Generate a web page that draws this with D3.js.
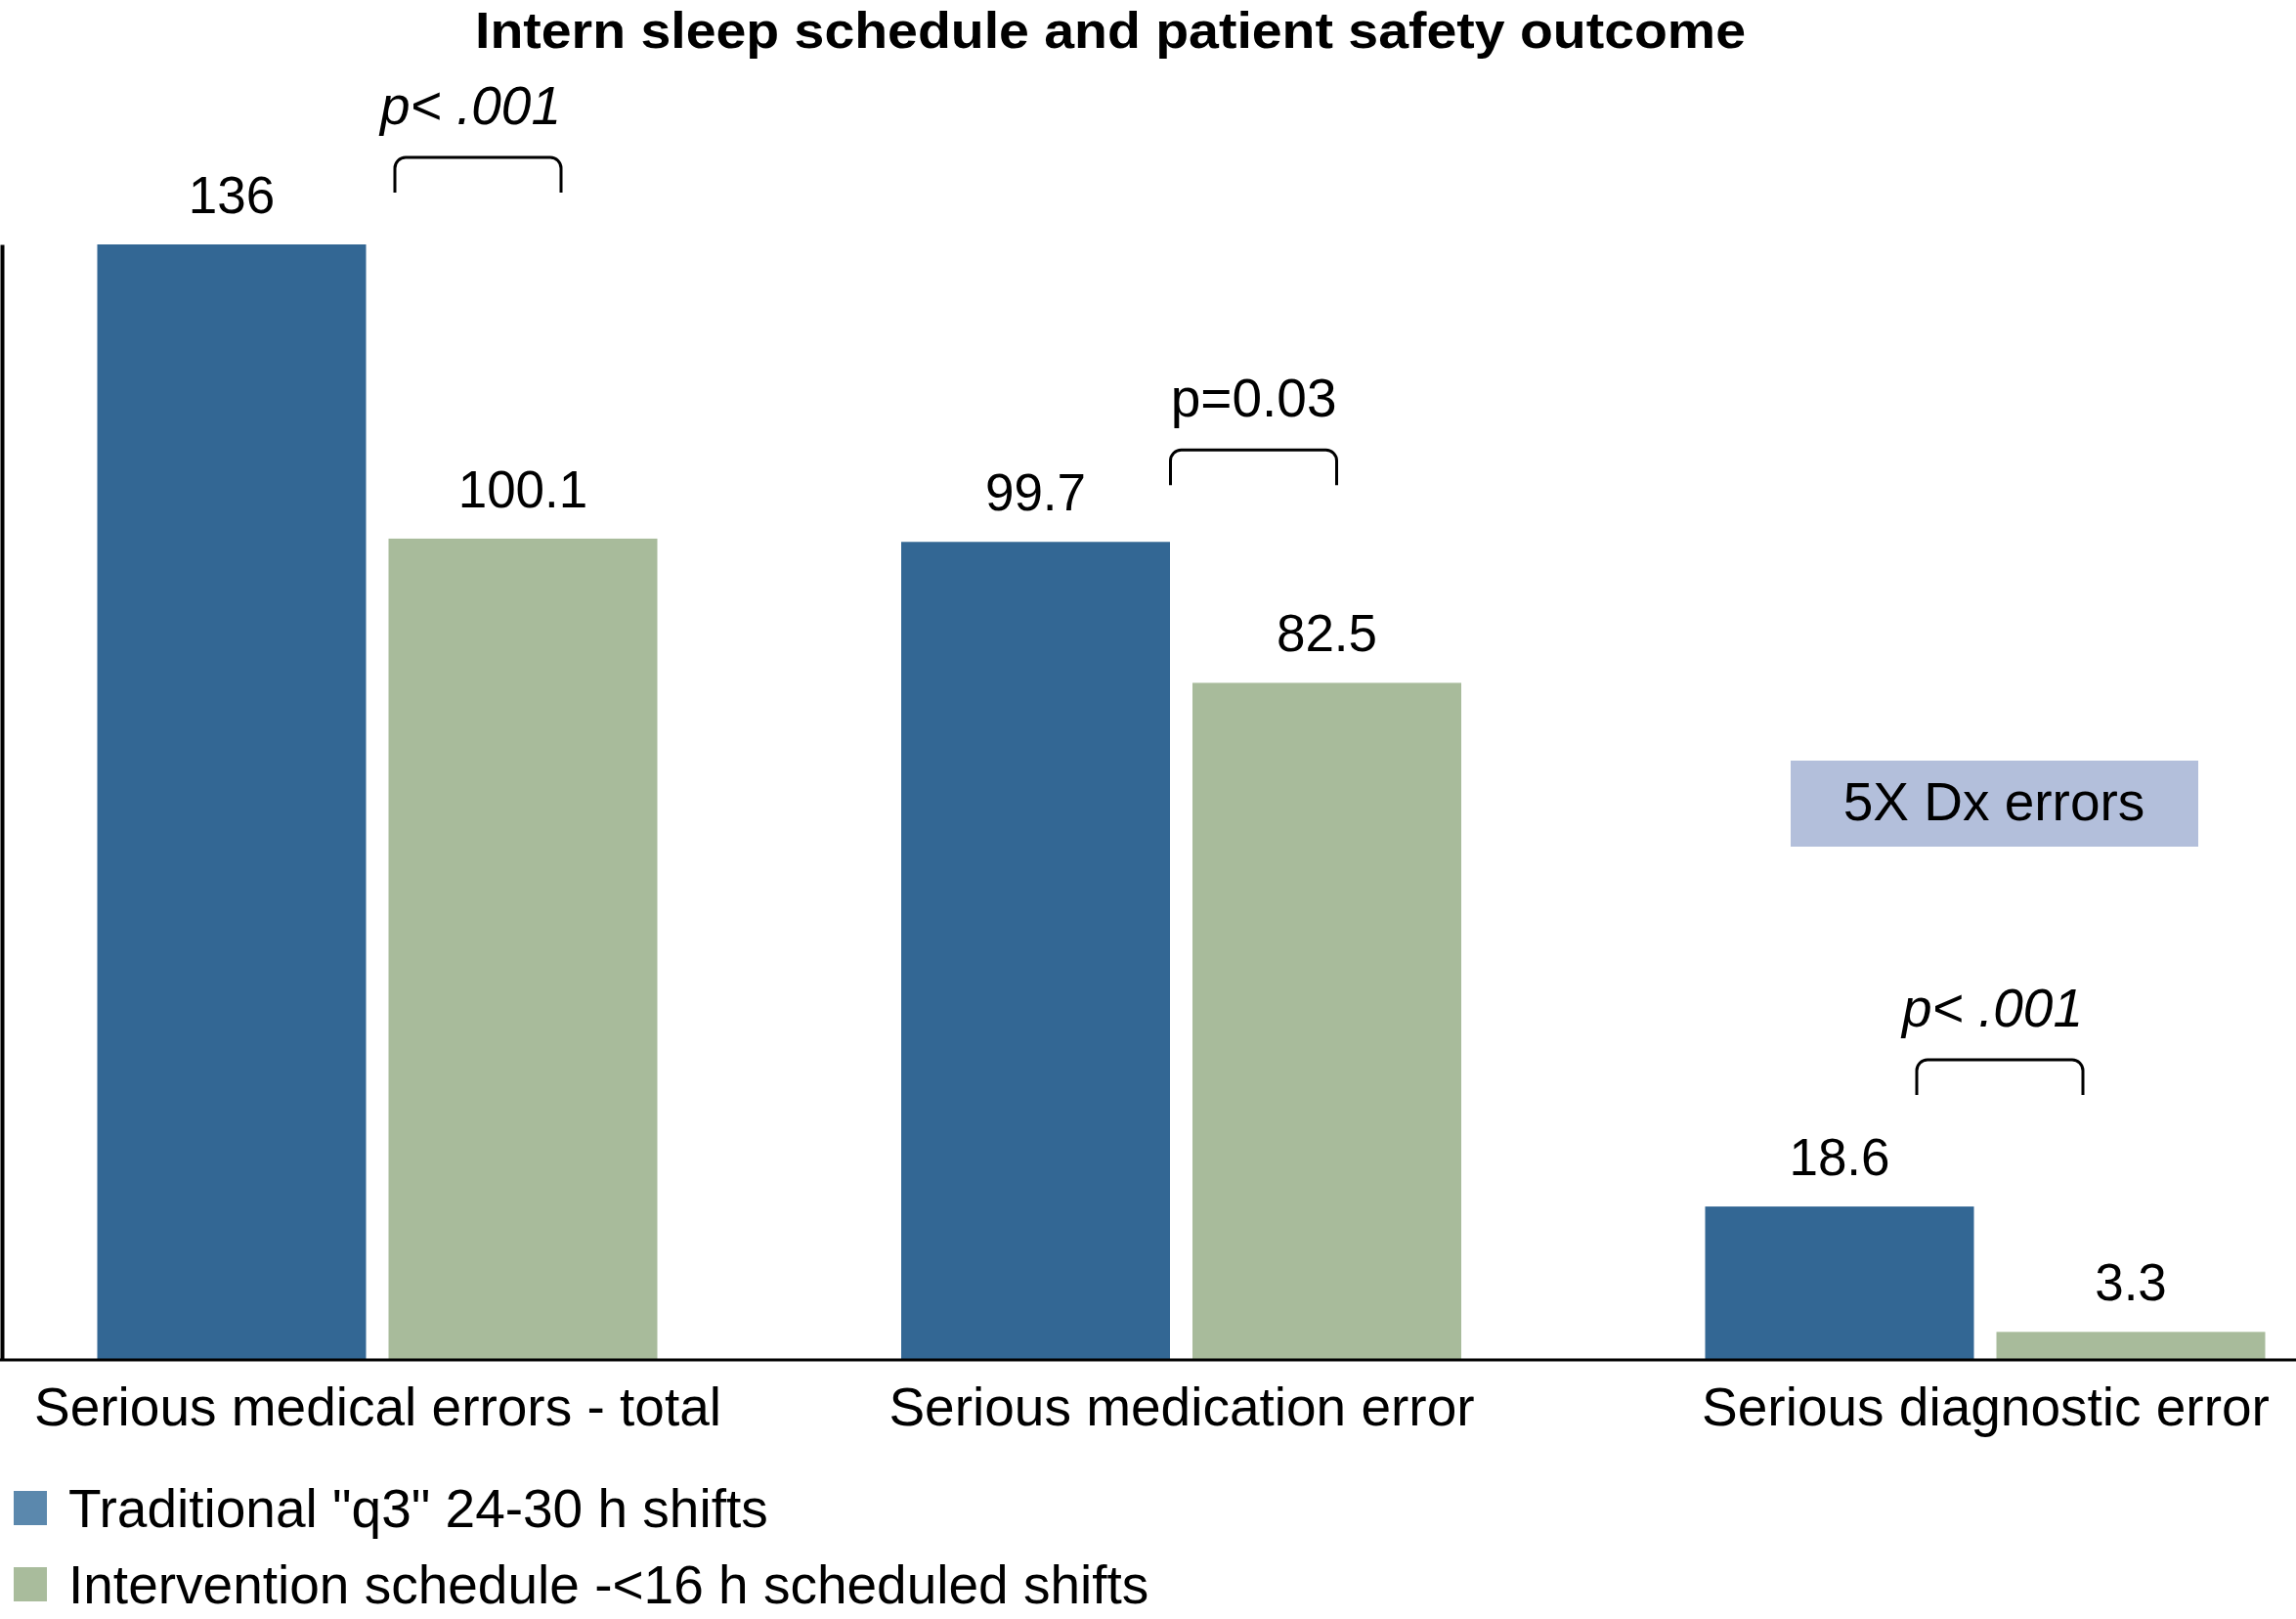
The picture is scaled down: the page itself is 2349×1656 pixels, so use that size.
<!DOCTYPE html>
<html>
<head>
<meta charset="utf-8">
<script src="https://cdn.jsdelivr.net/npm/d3@7/dist/d3.min.js"></script>
<style>
  html, body { margin: 0; padding: 0; background: #fff; }
  text { font-family: "Liberation Sans", Arial, Helvetica, sans-serif; fill: #000; }
</style>
</head>
<body>
<svg id="chart" width="2349" height="1656"></svg>
<script>
// chart values
const categories = ["Serious medical errors - total", "Serious medication error", "Serious diagnostic error"];
const seriesNames = ["Traditional \"q3\" 24-30 h shifts", "Intervention schedule -<16 h scheduled shifts"];
const traditional = [136, 99.7, 18.6];
const intervention = [100.1, 82.5, 3.3];
const pLabels = ["p< .001", "p=0.03", "p< .001"];
const pItalic = [true, false, true];
const calloutText = "5X Dx errors";
const titleText = "Intern sleep schedule and patient safety outcome";

// layout / style
const W = 2349, H = 1656;
const baseY = 1390, topY = 250;
const barColors = ["#336794", "#a8bb9b"];
const swatchColors = ["#5b88ad", "#a9bc9c"];
const bracketEnd = [188, 159, 100];   // px from group centre to bracket right end
const bracketLift = [53, 58, 114];    // px above taller bar top
const bracketW = 170, bracketH = 36, bracketR = 11;

const svg = d3.select("#chart");

const x = d3.scalePoint().domain(categories).range([386, 2031]);
const sub = d3.scaleBand().domain([0, 1]).range([-286.5, 286.5]).paddingInner(0.0772);
const y = d3.scaleLinear()
    .domain([0, d3.max(traditional.concat(intervention))])
    .range([baseY, topY]);

const rows = categories.map((c, i) => ({cat: c, vals: [traditional[i], intervention[i]], i: i}));

// title
svg.append("text")
    .attr("x", 1136).attr("y", 49)
    .attr("text-anchor", "middle")
    .attr("textLength", 1300)
    .attr("lengthAdjust", "spacingAndGlyphs")
    .style("font-size", "52px").style("font-weight", "bold")
    .text(titleText);

// bars
const grp = svg.selectAll("g.grp").data(rows).join("g")
    .attr("class", "grp")
    .attr("transform", d => `translate(${x(d.cat)},0)`);

grp.selectAll("rect")
    .data(d => d.vals.map((v, k) => ({v: v, k: k})))
    .join("rect")
    .attr("x", d => sub(d.k))
    .attr("width", sub.bandwidth())
    .attr("y", d => y(d.v))
    .attr("height", d => y(0) - y(d.v))
    .attr("fill", d => barColors[d.k]);

grp.selectAll("text.val")
    .data(d => d.vals.map((v, k) => ({v: v, k: k})))
    .join("text")
    .attr("class", "val")
    .attr("x", d => sub(d.k) + sub.bandwidth() / 2)
    .attr("y", d => y(d.v) - 32)
    .attr("text-anchor", "middle")
    .style("font-size", "53px")
    .text(d => String(d.v));

// significance brackets
grp.each(function(d) {
    const g = d3.select(this);
    const right = bracketEnd[d.i], left = right - bracketW;
    const bottom = y(d3.max(d.vals)) - bracketLift[d.i];
    const top = bottom - bracketH;
    const p = d3.path();
    p.moveTo(left, bottom);
    p.lineTo(left, top + bracketR);
    p.arcTo(left, top, left + bracketR, top, bracketR);
    p.lineTo(right - bracketR, top);
    p.arcTo(right, top, right, top + bracketR, bracketR);
    p.lineTo(right, bottom);
    g.append("path")
        .attr("d", p.toString())
        .attr("fill", "none")
        .attr("stroke", "#000")
        .attr("stroke-width", 3);
    g.append("text")
        .attr("x", right).attr("y", top - 34)
        .attr("text-anchor", "end")
        .style("font-size", "55px")
        .style("font-style", pItalic[d.i] ? "italic" : "normal")
        .text(pLabels[d.i]);
});

// callout box over the diagnostic group
const cx = x(categories[2]) + 9;
svg.append("rect")
    .attr("x", cx - 208).attr("y", 778)
    .attr("width", 417).attr("height", 88)
    .attr("fill", "#b3bfdb");
svg.append("text")
    .attr("x", cx).attr("y", 839)
    .attr("text-anchor", "middle")
    .style("font-size", "55px")
    .text(calloutText);

// axes
svg.append("g")
    .attr("transform", "translate(2,0)")
    .call(d3.axisLeft(y).ticks(0).tickSizeOuter(0))
    .call(g => g.select(".domain").attr("stroke", "#000").attr("stroke-width", 4));

svg.append("line")
    .attr("x1", 0).attr("x2", W)
    .attr("y1", y(0) + 1).attr("y2", y(0) + 1)
    .attr("stroke", "#000").attr("stroke-width", 3);

svg.append("g")
    .attr("transform", `translate(0,${y(0)})`)
    .call(d3.axisBottom(x).tickSize(0).tickPadding(29))
    .call(g => g.select(".domain").remove())
    .call(g => g.selectAll("text")
        .style("font-size", "55px")
        .style("font-family", "'Liberation Sans', Arial, sans-serif")
        .attr("fill", "#000"));

// legend
const leg = svg.selectAll("g.leg").data(seriesNames).join("g")
    .attr("class", "leg")
    .attr("transform", (d, i) => `translate(14,${1562 + i * 78})`);
leg.append("rect")
    .attr("x", 0).attr("y", -37)
    .attr("width", 34).attr("height", 35)
    .attr("fill", (d, i) => swatchColors[i]);
leg.append("text")
    .attr("x", 56).attr("y", 0)
    .style("font-size", "55px")
    .text(d => d);
</script>
</body>
</html>
